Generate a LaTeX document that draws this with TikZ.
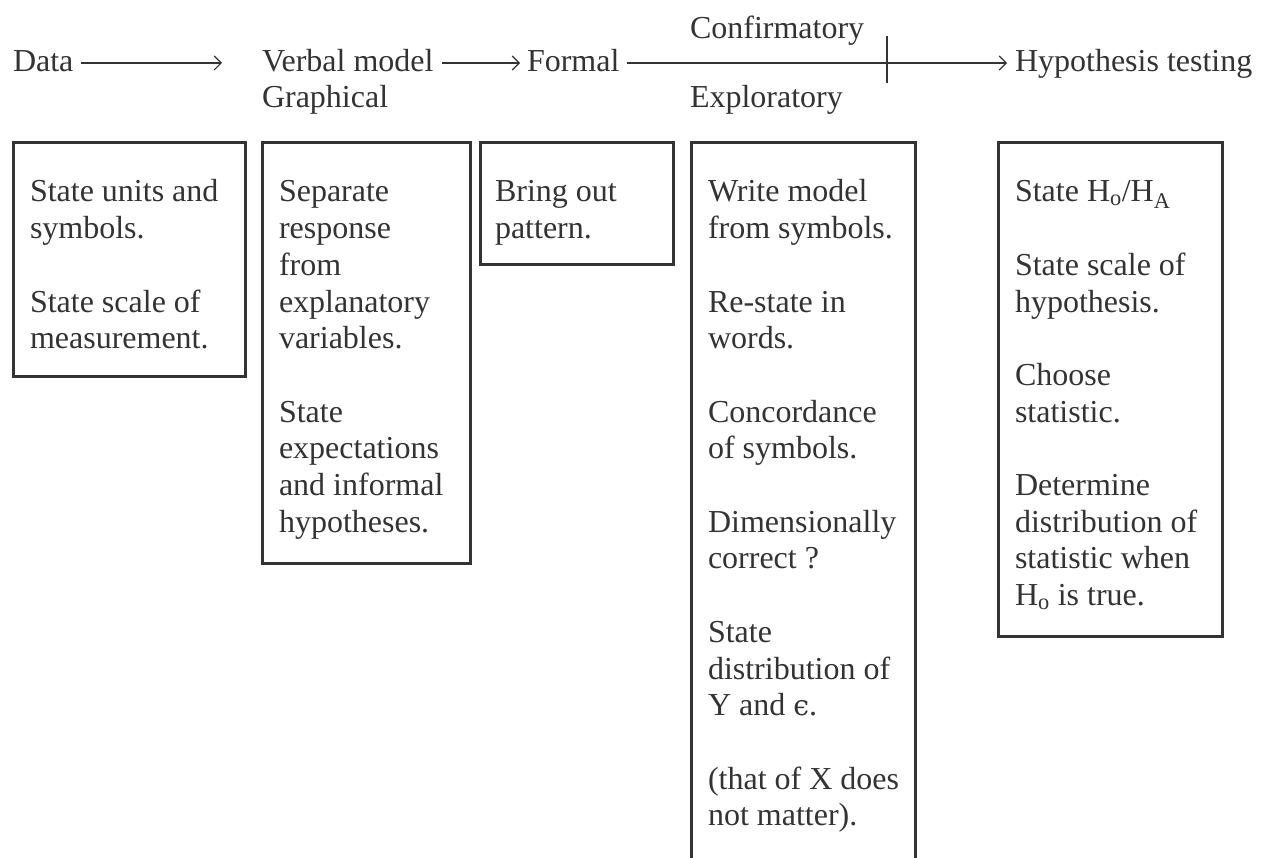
\documentclass[tikz,border=0pt]{standalone}
\usepackage{fontspec}
\setmainfont{Liberation Serif}
\newfontfamily\epsfont{DejaVu Serif}[Scale=0.88]
\usetikzlibrary{arrows.meta}
\definecolor{ink}{HTML}{333336}
\begin{document}
\begin{tikzpicture}[x=1pt,y=-1pt,
  every node/.style={inner sep=0pt, outer sep=0pt, text=ink, font=\fontsize{32}{36.7}\selectfont},
  lbl/.style={anchor=base west},
  boxtext/.style={anchor=north west, align=left},
  frame/.style={draw=ink, line width=3pt},
  arr/.style={draw=ink, line width=1.6pt, -{Straight Barb[length=7pt,width=14pt,line width=1.1pt]}},
]
\useasboundingbox (0,0) rectangle (1261,858);

% top row
\node[lbl] (data)   at (13,72)   {Data};
\node[lbl] (verbal) at (262,72)  {Verbal model};
\node[lbl] (graph)  at (262,108) {Graphical};
\node[lbl] (formal) at (527,72)  {Formal};
\node[lbl] (conf)   at (690,39)  {Confirmatory};
\node[lbl] (expl)   at (690,108) {Exploratory};
\node[lbl] (hyp)    at (1015,72) {Hypothesis testing};

\draw[arr] ([xshift=8pt,yshift=9pt]data.base east) -- ([xshift=-40pt,yshift=9pt]verbal.base west);
\draw[arr] ([xshift=8pt,yshift=9pt]verbal.base east) -- ([xshift=-7pt,yshift=9pt]formal.base west);
\draw[arr] ([xshift=8pt,yshift=9pt]formal.base east) -- ([xshift=-8pt,yshift=9pt]hyp.base west);
\coordinate (tick) at (887,63);
\draw[draw=ink, line width=1.4pt] ([yshift=27pt]tick) -- ([yshift=-20pt]tick);

% boxes
\draw[frame] (13,143) rectangle (245,377);
\draw[frame] (262,143) rectangle (470,563);
\draw[frame] (480,143) rectangle (673,265);
\draw[frame] (691,870) -- (691,143) -- (915,143) -- (915,870);
\draw[frame] (998,143) rectangle (1222,636);

% box texts (first baseline at y=202)
\node[boxtext] (t1) at (30,176.3) {\strut State units and\\ symbols.\\[36.7pt] State scale of\\ measurement.};
\node[boxtext] (t2) at (279,176.3) {\strut Separate\\ response\\ from\\ explanatory\\ variables.\\[36.7pt] State\\ expectations\\ and informal\\ hypotheses.};
\node[boxtext] (t3) at (495,176.3) {\strut Bring out\\ pattern.};
\node[boxtext] (t4) at (708,176.3) {\strut Write model\\ from symbols.\\[36.7pt] Re-state in\\ words.\\[36.7pt] Concordance\\ of symbols.\\[36.7pt] Dimensionally\\ correct ?\\[36.7pt] State\\ distribution of\\ Y and {\epsfont ϵ}.\\[36.7pt] (that of X does\\ not matter).};
\node[boxtext] (t5) at (1015,176.3) {\strut State H\textsubscript{o}/H\textsubscript{A}\\[36.7pt] State scale of\\ hypothesis.\\[36.7pt] Choose\\ statistic.\\[36.7pt] Determine\\ distribution of\\ statistic when\\ H\textsubscript{o} is true.};
\end{tikzpicture}
\end{document}
